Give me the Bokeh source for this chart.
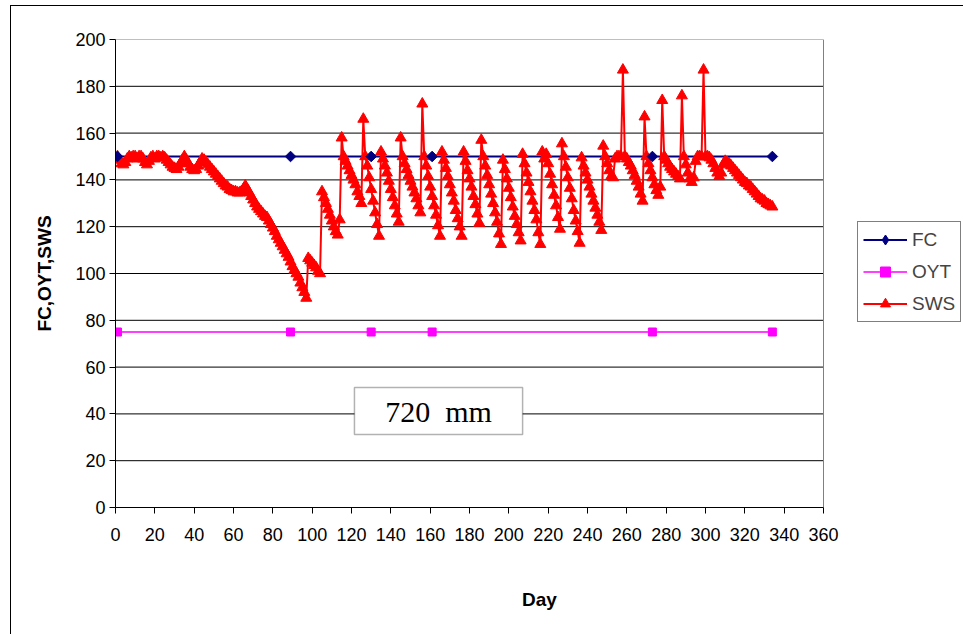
from bokeh.plotting import figure
from bokeh.models import (Range1d, FixedTicker, Legend, LegendItem, BoxAnnotation, Label,
                          ColumnDataSource, InlineStyleSheet)
from bokeh.embed import file_html
from bokeh.resources import INLINE
import math

# ---------------- data ----------------
fc_days = [1, 89, 130, 161, 273, 334]
fc_values = [150, 150, 150, 150, 150, 150]

oyt_days = [1, 89, 130, 161, 273, 334]
oyt_values = [75, 75, 75, 75, 75, 75]

sws_days = list(range(1, 335))
sws_values = [
    # days 1-30
    150, 148.5, 147, 146.5, 147.5, 149, 150, 149.5, 150, 150,
    149, 150, 150, 149, 147.5, 146.5, 148, 149.5, 150, 149,
    150, 150, 149.5, 150, 149.5, 148.5, 147.5, 146.5, 145.5, 145,
    # days 31-60
    144.5, 145.5, 147, 148.5, 150, 148.5, 147, 145.5, 144.5, 144,
    144.5, 146, 147.5, 149, 148.5, 147.5, 146.5, 145.5, 144.5, 143.5,
    142.5, 141.5, 140.5, 139.5, 138.5, 137.5, 137, 136, 135.5, 135,
    # days 61-90
    135, 134.5, 134.5, 135, 136, 137.5, 136, 134.5, 133, 131.5,
    130, 128.5, 127.5, 126.5, 125.5, 124.5, 124, 122.5, 121, 119.5,
    118, 116, 114.5, 113, 111.5, 110, 108.5, 107, 105, 103,
    # days 91-120
    101.5, 100, 98.5, 96, 94, 92, 89.5, 106.5, 105.5, 104.5,
    103.5, 102.5, 101, 100, 135, 132.5, 130, 127.5, 125, 122.5,
    120, 118, 116.5, 123, 158, 150, 148, 146, 144, 142,
    # days 121-150
    140, 138, 135, 133, 130, 166, 150, 146, 141, 136,
    131, 126, 121, 116, 152, 149, 146, 143, 139.5, 136,
    132.5, 129, 125.5, 122, 158, 150, 147, 144.5, 142, 139.5,
    # days 151-180
    137, 134.5, 132, 129, 126, 172.5, 150, 146, 141.5, 137,
    133, 129, 125, 120.5, 116, 152, 148.5, 145, 141.5, 138,
    134.5, 131, 127, 123.5, 120, 116, 152, 148, 144, 140.5,
    # days 181-210
    137, 133, 129.5, 125.5, 121.5, 157, 150, 146, 142, 138,
    134, 130, 126, 122, 117, 112.5, 148.5, 144.5, 140.5, 136.5,
    132.5, 128.5, 124.5, 121, 117.5, 114, 151, 147, 143, 139,
    # days 211-240
    135, 131, 127, 123, 117.5, 112.5, 152, 149, 151, 147,
    142.5, 138, 133.5, 129, 124, 119, 155.5, 150, 145.5, 141,
    136.5, 132, 127, 122.5, 118, 113, 149.5, 146, 143, 140,
    # days 241-270
    137, 134, 131, 128, 125, 122, 118.5, 154.5, 150, 147,
    144, 141.5, 141, 149, 150, 150, 150, 187, 150, 149,
    147.5, 146, 144, 142, 139.5, 137, 134, 131, 167, 150,
    # days 271-300
    147, 144, 141, 138, 135.5, 133.5, 137, 174, 150, 148.5,
    147, 145.5, 144.5, 143.5, 142.5, 141.5, 140.5, 176, 150, 146.5,
    143, 140.5, 139, 141, 148, 150, 150, 150, 187, 150,
    # days 301-334
    150, 149.5, 148.5, 147, 145, 143, 141.5, 143, 146.5, 148,
    147.5, 147, 146, 145, 144, 143, 142, 141, 140, 139,
    138.5, 137.5, 137, 136, 135, 134, 133, 132, 131.5, 131,
    130, 129.5, 129, 128.5,
]

x_ticks = list(range(0, 361, 20))
y_ticks = list(range(0, 201, 20))
note_text = "720\u00a0\u00a0mm"

X_MAX = 360
Y_MAX = 200

# ---------------- figure ----------------
FONT = "Liberation Sans"
FRAME_W = 708            # pixel width of the 0..360 plot area
LEFT, TOP, BOTTOM = 115, 39, 127
x_end = X_MAX * (963 - LEFT) / FRAME_W   # frame extends to the right edge (legend lives there)

p = figure(width=963, height=634, output_backend="svg", toolbar_location=None,
           x_range=Range1d(0, x_end), y_range=Range1d(0, Y_MAX),
           min_border_left=LEFT, min_border_right=0,
           min_border_top=TOP, min_border_bottom=BOTTOM)
p.background_fill_color = "white"
p.border_fill_color = "white"
p.outline_line_color = None

# outer chart border (only left/top visible in the window)
p.stylesheets = [InlineStyleSheet(css="""
:host::after {
  content: '';
  position: absolute;
  left: 10px; top: 5px; right: 0; bottom: 0;
  border-left: 1.5px solid black;
  border-top: 1.5px solid black;
  pointer-events: none;
}
""")]

p.xaxis.ticker = FixedTicker(ticks=x_ticks)
p.yaxis.ticker = FixedTicker(ticks=y_ticks)
p.xaxis.bounds = (0, X_MAX)
p.xaxis.axis_label = "Day"
p.yaxis.axis_label = "FC,OYT,SWS"
for ax in (p.xaxis[0], p.yaxis[0]):
    ax.axis_line_color = "black"
    ax.axis_line_width = 1
    ax.major_tick_line_color = "black"
    ax.major_tick_in = 0
    ax.major_tick_out = 6
    ax.minor_tick_out = 0
    ax.minor_tick_in = 0
    ax.major_label_text_font = FONT
    ax.major_label_text_font_size = "18px"
    ax.major_label_text_color = "black"
    ax.axis_label_text_font = FONT
    ax.axis_label_text_font_size = "19px"
    ax.axis_label_text_font_style = "bold"
    ax.axis_label_text_color = "black"
p.xaxis.major_label_standoff = 14
p.xaxis.axis_label_standoff = 45
p.yaxis.major_label_standoff = 4
p.yaxis.axis_label_standoff = 17

# grid lines limited to the 0..360 plot area, plus plot-area border
p.xgrid.visible = False
p.ygrid.visible = False
inner = y_ticks[1:-1]
p.segment(x0=[0] * len(inner), x1=[X_MAX] * len(inner), y0=inner, y1=inner,
          line_color="black", line_width=1)
p.segment(x0=[0, X_MAX], x1=[X_MAX, X_MAX], y0=[Y_MAX, 0], y1=[Y_MAX, Y_MAX],
          line_color="#808080", line_width=1)

# ---------------- series ----------------
fc_src = ColumnDataSource(dict(x=fc_days, y=fc_values))
oyt_src = ColumnDataSource(dict(x=oyt_days, y=oyt_values))
sws_src = ColumnDataSource(dict(x=sws_days, y=sws_values))

fc_line = p.line("x", "y", source=fc_src, line_color="#000080", line_width=2)
oyt_line = p.line("x", "y", source=oyt_src, line_color="#FF00FF", line_width=1.5)
oyt_pts = p.scatter("x", "y", source=oyt_src, marker="square", size=8,
                    fill_color="#FF00FF", line_color="#FF00FF")
sws_line = p.line("x", "y", source=sws_src, line_color="#FF0000", line_width=2)
sws_pts = p.scatter("x", "y", source=sws_src, marker="triangle", size=11,
                    fill_color="#FF0000", line_color="#FF0000")
# diamond used for the legend key; hidden under the rotated-square markers below
fc_key = p.scatter("x", "y", source=fc_src, marker="diamond", size=9,
                   fill_color="#000080", line_color="#000080")
fc_pts = p.scatter("x", "y", source=fc_src, marker="square", size=7.5, angle=math.pi / 4,
                   fill_color="#000080", line_color="#000080")

# ---------------- text box ----------------
p.add_layout(BoxAnnotation(left=121.5, right=207, bottom=31.2, top=51.3,
                           fill_color="white", fill_alpha=1,
                           line_color="black", line_width=1.5))
p.add_layout(Label(x=164.3, y=41.2, text=note_text, text_align="center",
                   text_baseline="middle", text_font="Liberation Serif",
                   text_font_size="30px", text_color="black"))

# ---------------- legend ----------------
legend = Legend(items=[
    LegendItem(label="FC", renderers=[fc_line, fc_key]),
    LegendItem(label="OYT", renderers=[oyt_line, oyt_pts]),
    LegendItem(label="SWS", renderers=[sws_line, sws_pts]),
], location=(742, 185))
legend.border_line_color = "black"
legend.border_line_width = 1
legend.background_fill_color = "white"
legend.background_fill_alpha = 1
legend.label_text_font = FONT
legend.label_text_font_size = "19px"
legend.glyph_width = 44
legend.glyph_height = 25
legend.label_height = 25
legend.spacing = 7
legend.padding = 5
legend.margin = 0
legend.label_standoff = 5
p.add_layout(legend)

open("out.html", "w").write(file_html(p, INLINE))
